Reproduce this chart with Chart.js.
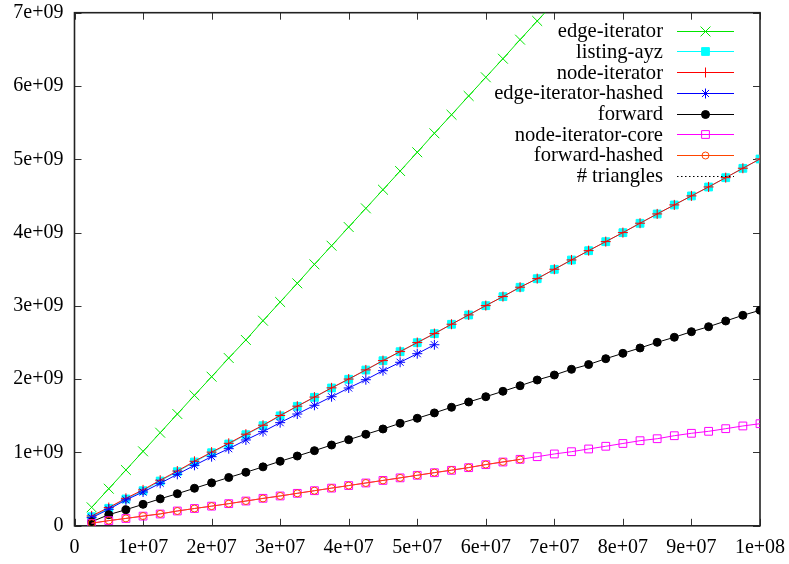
<!DOCTYPE html>
<html>
<head>
<meta charset="utf-8">
<script src="https://cdn.jsdelivr.net/npm/chart.js@4/dist/chart.umd.min.js"></script>
<style>
  html, body { margin: 0; padding: 0; background: #ffffff; }
  #wrap { width: 789px; height: 564px; }
</style>
</head>
<body>
<div id="wrap"><canvas id="c" width="789" height="564"></canvas></div>
<script>
// Input size (x axis): number of edges
const sizes = [
  2500000, 5000000, 7500000, 10000000, 12500000, 15000000, 17500000, 20000000,
  22500000, 25000000, 27500000, 30000000, 32500000, 35000000, 37500000, 40000000,
  42500000, 45000000, 47500000, 50000000, 52500000, 55000000, 57500000, 60000000,
  62500000, 65000000, 67500000, 70000000, 72500000, 75000000, 77500000, 80000000,
  82500000, 85000000, 87500000, 90000000, 92500000, 95000000, 97500000, 100000000
];

// Measured values per algorithm, in units of 1e9
const edgeIterator = [
  0.252, 0.506, 0.761, 1.016, 1.270, 1.525, 1.780, 2.034, 2.289, 2.535,
  2.798, 3.053, 3.308, 3.567, 3.821, 4.076, 4.331, 4.585, 4.840, 5.096,
  5.355, 5.608, 5.864, 6.119, 6.372, 6.632, 6.887, 7.140
];
const listingAyz = [
  0.124, 0.239, 0.366, 0.479, 0.611, 0.738, 0.870, 0.997, 1.116, 1.243,
  1.366, 1.500, 1.630, 1.753, 1.880, 1.999, 2.125, 2.252, 2.375, 2.498,
  2.621, 2.749, 2.876, 3.003, 3.126, 3.254, 3.371, 3.499, 3.626, 3.753,
  3.876, 3.999, 4.127, 4.254, 4.377, 4.500, 4.622, 4.749, 4.877, 5.004
];
const nodeIterator = [
  0.134, 0.249, 0.375, 0.490, 0.622, 0.747, 0.880, 1.005, 1.125, 1.250,
  1.372, 1.505, 1.632, 1.756, 1.882, 2.002, 2.127, 2.254, 2.377, 2.500,
  2.622, 2.750, 2.877, 3.004, 3.127, 3.255, 3.372, 3.500, 3.627, 3.754,
  3.877, 4.000, 4.128, 4.255, 4.378, 4.501, 4.623, 4.750, 4.878, 5.005
];
const edgeIteratorHashed = [
  0.111, 0.225, 0.354, 0.461, 0.580, 0.702, 0.825, 0.943, 1.052, 1.171,
  1.284, 1.407, 1.525, 1.644, 1.761, 1.880, 1.993, 2.116, 2.231, 2.348,
  2.470
];
const forward = [
  0.055, 0.152, 0.220, 0.293, 0.368, 0.438, 0.512, 0.586, 0.659, 0.730,
  0.804, 0.880, 0.952, 1.025, 1.102, 1.175, 1.248, 1.321, 1.398, 1.467,
  1.540, 1.617, 1.689, 1.761, 1.835, 1.911, 1.989, 2.057, 2.135, 2.200,
  2.280, 2.353, 2.426, 2.503, 2.572, 2.648, 2.716, 2.794, 2.872, 2.940
];
const nodeIteratorCore = [
  0.034, 0.070, 0.100, 0.132, 0.161, 0.202, 0.236, 0.268, 0.302, 0.338,
  0.375, 0.407, 0.443, 0.479, 0.514, 0.549, 0.584, 0.619, 0.654, 0.689,
  0.724, 0.757, 0.793, 0.834, 0.870, 0.907, 0.943, 0.980, 1.011, 1.048,
  1.085, 1.123, 1.161, 1.188, 1.229, 1.262, 1.289, 1.325, 1.362, 1.393
];
const forwardHashed = [
  0.036, 0.071, 0.101, 0.133, 0.163, 0.202, 0.236, 0.268, 0.302, 0.338,
  0.373, 0.407, 0.443, 0.479, 0.514, 0.549, 0.584, 0.619, 0.654, 0.689,
  0.726, 0.760, 0.795, 0.836, 0.872, 0.905
];
const triangleCount = [];

const seriesNames = [
  'edge-iterator', 'listing-ayz', 'node-iterator', 'edge-iterator-hashed',
  'forward', 'node-iterator-core', 'forward-hashed', '# triangles'
];

// Tick labels
const xTickLabels = ['0', '1e+07', '2e+07', '3e+07', '4e+07', '5e+07',
                     '6e+07', '7e+07', '8e+07', '9e+07', '1e+08'];
const yTickLabels = ['0', '1e+09', '2e+09', '3e+09', '4e+09', '5e+09', '6e+09', '7e+09'];

const GIGA = 1e9;
const toPoints = (vals) => vals.map((v, i) => ({ x: sizes[i], y: v * GIGA }));

const FONT = '"Liberation Serif", "Times New Roman", serif';
const FONT_SIZE = 20;
const KEY_FONT_SIZE = 20.6;

const styles = [
  { color: '#00e600', style: 'crossRot', radius: 7,   fill: 'rgba(0,0,0,0)' },
  { color: '#00ffff', style: 'rect',     radius: 5.5, fill: '#00ffff' },
  { color: '#ff0000', style: 'cross',    radius: 5,   fill: 'rgba(0,0,0,0)' },
  { color: '#0000ff', style: 'star',     radius: 5,   fill: 'rgba(0,0,0,0)' },
  { color: '#000000', style: 'circle',   radius: 4,   fill: '#000000' },
  { color: '#ff00ff', style: 'rect',     radius: 5.5, fill: 'rgba(0,0,0,0)' },
  { color: '#ff4500', style: 'circle',   radius: 3.5, fill: 'rgba(0,0,0,0)' },
  { color: '#000000', style: false,      radius: 0,   fill: 'rgba(0,0,0,0)', dash: [1.5, 2.5] }
];

const seriesData = [edgeIterator, listingAyz, nodeIterator, edgeIteratorHashed,
                    forward, nodeIteratorCore, forwardHashed, triangleCount];

const datasets = seriesData.map((vals, i) => {
  const s = styles[i];
  return {
    label: seriesNames[i],
    data: toPoints(vals),
    borderColor: s.color,
    backgroundColor: s.fill,
    borderWidth: 1,
    borderDash: s.dash || [],
    pointStyle: s.style,
    pointRadius: s.radius,
    pointBorderColor: s.color,
    pointBackgroundColor: s.fill,
    pointBorderWidth: 1,
    showLine: true,
    fill: false,
    tension: 0,
    order: seriesData.length - i   // later series are drawn on top
  };
});

// Frame with inward ticks on all four sides
const framePlugin = {
  id: 'frame',
  beforeDatasetsDraw(chart) {
    const { ctx, chartArea: a, scales } = chart;
    const tl = 7;
    ctx.save();
    ctx.strokeStyle = '#333333';
    ctx.lineWidth = 1;
    ctx.beginPath();
    scales.x.ticks.forEach((t) => {
      const px = Math.round(scales.x.getPixelForValue(t.value)) + 0.5;
      ctx.moveTo(px, a.bottom); ctx.lineTo(px, a.bottom - tl);
      ctx.moveTo(px, a.top);    ctx.lineTo(px, a.top + tl);
    });
    scales.y.ticks.forEach((t) => {
      const py = Math.round(scales.y.getPixelForValue(t.value)) + 0.5;
      ctx.moveTo(a.left, py);  ctx.lineTo(a.left + tl, py);
      ctx.moveTo(a.right, py); ctx.lineTo(a.right - tl, py);
    });
    ctx.stroke();
    ctx.strokeStyle = '#222222';
    ctx.lineWidth = 1.6;
    ctx.strokeRect(a.left, a.top, a.right - a.left, a.bottom - a.top);
    ctx.restore();
  }
};

// Key in the upper right: label, then a line sample with its marker
const keyPlugin = {
  id: 'key',
  afterDatasetsDraw(chart) {
    const { ctx, chartArea: a } = chart;
    const textRight = a.right - 97;
    const lineStart = a.right - 83;
    const lineEnd = a.right - 26;
    const top = a.top + 18;
    const step = 20.7;
    ctx.save();
    ctx.font = KEY_FONT_SIZE + 'px ' + FONT;
    ctx.textAlign = 'right';
    ctx.textBaseline = 'middle';
    chart.data.datasets.forEach((ds, i) => {
      const y = top + i * step;
      ctx.fillStyle = '#000000';
      ctx.fillText(ds.label, textRight, y + 1);
      ctx.strokeStyle = ds.borderColor;
      ctx.lineWidth = 1;
      ctx.setLineDash(ds.borderDash || []);
      ctx.beginPath();
      ctx.moveTo(lineStart, Math.round(y) + 0.5);
      ctx.lineTo(lineEnd, Math.round(y) + 0.5);
      ctx.stroke();
      ctx.setLineDash([]);
      if (ds.pointStyle) {
        ctx.fillStyle = ds.pointBackgroundColor;
        ctx.strokeStyle = ds.pointBorderColor;
        Chart.helpers.drawPoint(ctx, {
          pointStyle: ds.pointStyle,
          rotation: 0,
          radius: ds.pointRadius,
          borderWidth: ds.pointBorderWidth
        }, (lineStart + lineEnd) / 2, Math.round(y) + 0.5);
      }
    });
    ctx.restore();
  }
};

const plotBox = { left: 74.5, top: 12.7, right: 760, bottom: 525.8 };

new Chart(document.getElementById('c'), {
  type: 'scatter',
  data: { datasets },
  options: {
    responsive: false,
    devicePixelRatio: 1,
    animation: false,
    events: [],
    layout: {
      autoPadding: false,
      padding: { left: 0, top: plotBox.top, right: 789 - plotBox.right, bottom: 0 }
    },
    plugins: {
      legend: { display: false },
      tooltip: { enabled: false },
      title: { display: false }
    },
    scales: {
      x: {
        type: 'linear',
        min: 0,
        max: 1e8,
        grid: { display: false, drawTicks: false },
        border: { display: false },
        afterFit: (s) => {
          s.height = 564 - plotBox.bottom;
          s.paddingLeft = 0; s.paddingRight = 0;
        },
        afterBuildTicks: (s) => {
          s.ticks = xTickLabels.map((_, i) => ({ value: i * 1e7 }));
        },
        ticks: {
          autoSkip: false,
          maxRotation: 0,
          padding: 10,
          color: '#000000',
          font: { family: FONT, size: FONT_SIZE },
          callback: (v, i) => xTickLabels[i]
        }
      },
      y: {
        type: 'linear',
        min: 0,
        max: 7e9,
        grid: { display: false, drawTicks: false },
        border: { display: false },
        afterFit: (s) => {
          s.width = plotBox.left;
          s.paddingTop = 0; s.paddingBottom = 0;
        },
        afterBuildTicks: (s) => {
          s.ticks = yTickLabels.map((_, i) => ({ value: i * 1e9 }));
        },
        ticks: {
          autoSkip: false,
          padding: 11,
          color: '#000000',
          font: { family: FONT, size: FONT_SIZE },
          callback: (v, i) => yTickLabels[i]
        }
      }
    }
  },
  plugins: [framePlugin, keyPlugin]
});
</script>
</body>
</html>
